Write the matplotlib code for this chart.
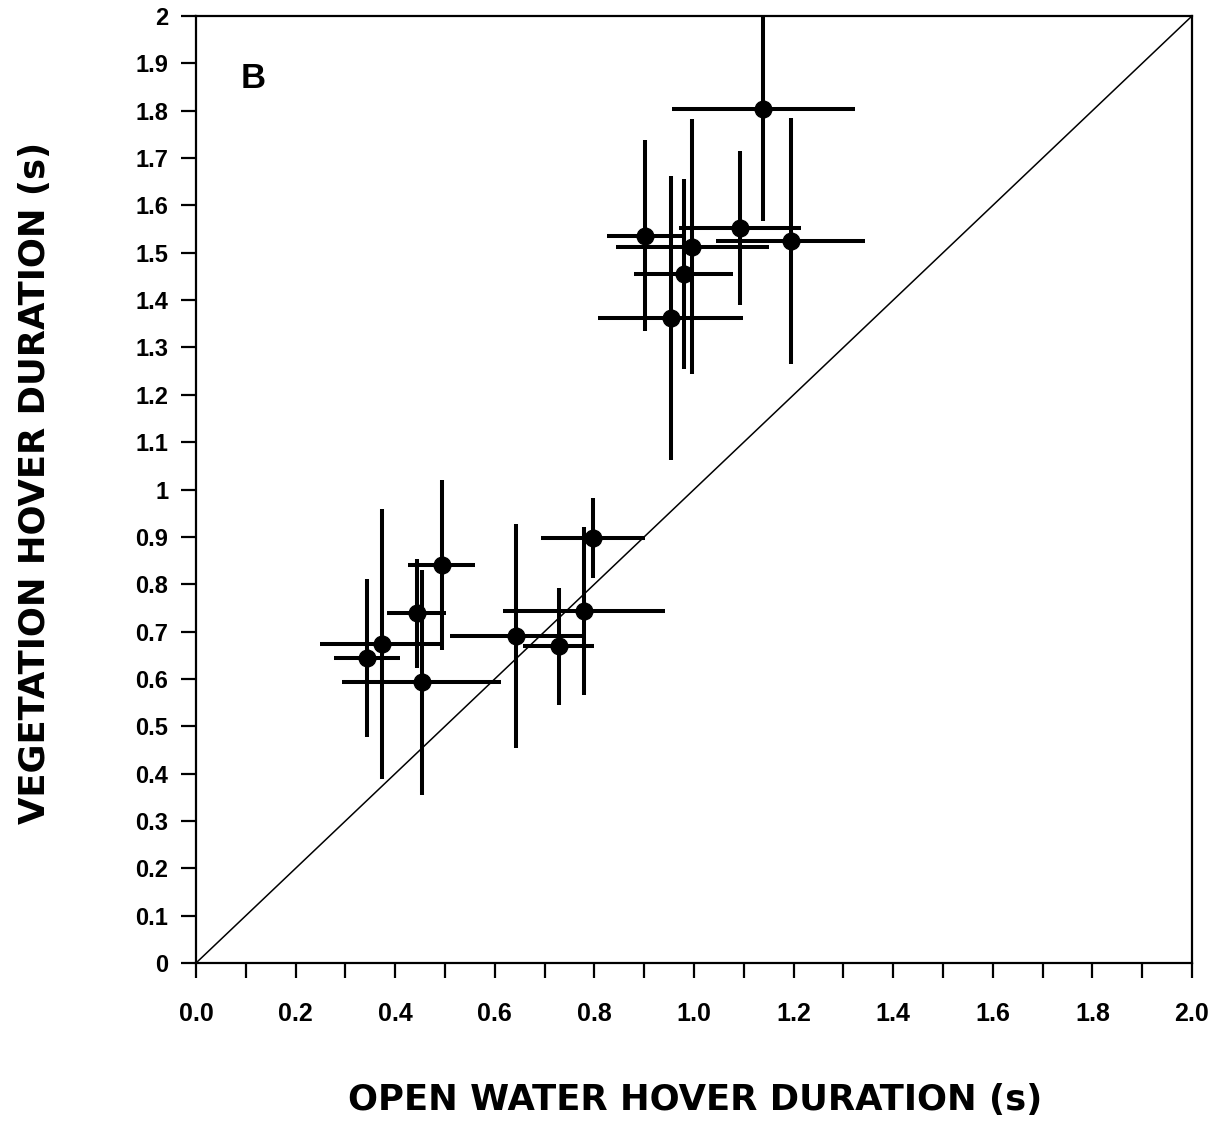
import matplotlib
matplotlib.use("Agg")
import matplotlib.pyplot as plt
from matplotlib.ticker import MultipleLocator, FuncFormatter

# Mean hover durations (s) with error bars, one point per bird
open_water = [1.139, 0.902, 1.092, 0.997, 1.194, 0.979, 0.953,
              0.344, 0.373, 0.443, 0.493, 0.453, 0.643, 0.728, 0.779, 0.797]
open_water_err = [0.184, 0.076, 0.123, 0.154, 0.150, 0.100, 0.145,
                  0.066, 0.125, 0.060, 0.068, 0.159, 0.133, 0.071, 0.163, 0.105]
vegetation = [1.803, 1.536, 1.553, 1.513, 1.525, 1.455, 1.363,
              0.644, 0.674, 0.739, 0.841, 0.593, 0.691, 0.669, 0.743, 0.898]
vegetation_err = [0.236, 0.202, 0.163, 0.270, 0.259, 0.200, 0.300,
                  0.167, 0.285, 0.115, 0.180, 0.238, 0.236, 0.124, 0.177, 0.085]

plt.rcParams["font.family"] = ["Liberation Sans", "DejaVu Sans"]

fig = plt.figure(figsize=(12.19, 11.22), dpi=100)
ax = fig.add_axes([0.1608, 0.1417, 0.817, 0.844])

# line of equality
ax.plot([0, 2], [0, 2], color="black", lw=1.1, zorder=1)

ax.errorbar(open_water, vegetation, xerr=open_water_err, yerr=vegetation_err,
            fmt="o", color="black", ms=12, elinewidth=2.9, capsize=0,
            zorder=3)

ax.set_xlim(0, 2)
ax.set_ylim(0, 2)

ax.xaxis.set_major_locator(MultipleLocator(0.1))
ax.yaxis.set_major_locator(MultipleLocator(0.1))


def x_fmt(v, pos):
    k = int(round(v * 10))
    return f"{v:.1f}" if k % 2 == 0 else ""


def y_fmt(v, pos):
    k = int(round(v * 10))
    if k % 10 == 0:
        return str(k // 10)
    return f"{v:.1f}"


ax.xaxis.set_major_formatter(FuncFormatter(x_fmt))
ax.yaxis.set_major_formatter(FuncFormatter(y_fmt))

ax.tick_params(axis="x", direction="out", length=11, width=1.6, pad=17,
               labelsize=18)
ax.tick_params(axis="y", direction="out", length=11, width=1.6, pad=9,
               labelsize=17)
for lab in ax.get_xticklabels() + ax.get_yticklabels():
    lab.set_family(["Liberation Sans Narrow", "Liberation Sans", "DejaVu Sans"])
    lab.set_fontweight("bold")

for sp in ax.spines.values():
    sp.set_linewidth(1.6)

ax.text(0.057, 0.934, "B", transform=ax.transAxes, fontsize=25,
        fontweight="bold", ha="center", va="center")

fig.text(0.570, 0.0196, "OPEN WATER HOVER DURATION (s)", ha="center",
         va="center", fontsize=25.5, fontweight="bold", family="DejaVu Sans")
fig.text(0.029, 0.570, "VEGETATION HOVER DURATION (s)", ha="center",
         va="center", fontsize=25.5, fontweight="bold", family="DejaVu Sans",
         rotation=90)

fig.savefig("out.png", dpi=100)
